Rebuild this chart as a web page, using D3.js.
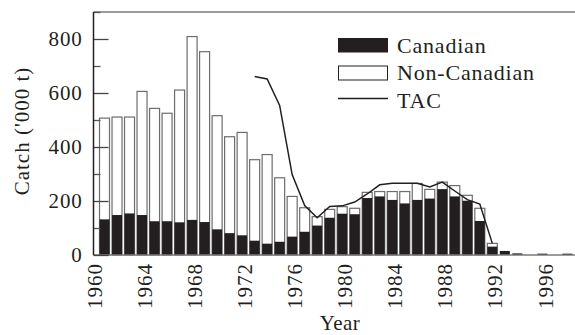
<!DOCTYPE html>
<html>
<head>
<meta charset="utf-8">
<script src="https://cdn.jsdelivr.net/npm/d3@7"></script>
<style>
  body { margin: 0; background: #fff; }
  text { font-family: "Liberation Serif", serif; fill: #231f20; }
</style>
</head>
<body>
<div id="chart"></div>
<script>
// catch by year, '000 t
var years = d3.range(1961, 1999);
var canadian = [132, 148, 154, 148, 125, 125, 121, 130, 122, 95,
                81, 73, 53, 42, 49, 68, 86, 109, 138, 153,
                151, 211, 217, 204, 191, 204, 209, 244, 217, 201,
                126, 31, 15, 6, 0, 5, 0, 5];
var nonCanadian = [375, 363, 357, 458, 418, 400, 490, 679, 631, 421,
                   357, 381, 300, 330, 237, 149, 89, 33, 31, 26,
                   22, 21, 18, 31, 44, 61, 34, 26, 40, 20,
                   47, 12, 0, 0, 0, 0, 0, 0];
var tacYears = d3.range(1973, 1993);
var tac = [661, 652, 554, 298, 183, 138, 180, 182, 196, 226,
           260, 266, 266, 266, 252, 270, 237, 205, 189, 43];
var yearTicks = d3.range(1960, 1997, 4);
var catchTicks = [0, 200, 400, 600, 800];
var minorTicks = [100, 300, 500, 700, 900];
var legendItems = ["Canadian", "Non-Canadian", "TAC"];

var data = years.map(function(y, i) {
  return { year: y, can: canadian[i], non: nonCanadian[i] };
});

var margin = { top: 12, right: 0, bottom: 80, left: 93.5 },
    width = 575 - margin.left - margin.right,
    height = 335 - margin.top - margin.bottom;

var svg = d3.select("#chart").append("svg")
    .attr("width", 575)
    .attr("height", 335)
  .append("g")
    .attr("transform", "translate(" + margin.left + "," + margin.top + ")");

var x = d3.scaleLinear()
    .domain([1960, 1998.5])
    .range([-1.5, -1.5 + 38.5 * 12.51]);

var y = d3.scaleLinear()
    .domain([0, 900])
    .range([height, 0]);

var barW = 10;

// bars: outlined total, black Canadian part on the bottom
svg.selectAll(".total")
    .data(data.filter(function(d) { return d.non > 0; }))
  .enter().append("rect")
    .attr("class", "total")
    .attr("x", function(d) { return x(d.year) - barW / 2; })
    .attr("y", function(d) { return y(d.can + d.non); })
    .attr("width", barW)
    .attr("height", function(d) { return y(0) - y(d.can + d.non); })
    .style("fill", "#fff")
    .style("stroke", "#6d6d6d")
    .style("stroke-width", 1.2);

svg.selectAll(".can")
    .data(data.filter(function(d) { return d.can > 0; }))
  .enter().append("rect")
    .attr("class", "can")
    .attr("x", function(d) { return x(d.year) - barW / 2; })
    .attr("y", function(d) { return y(d.can); })
    .attr("width", barW)
    .attr("height", function(d) { return y(0) - y(d.can); })
    .style("fill", "#231f20");

// TAC line
var line = d3.line()
    .x(function(d, i) { return x(tacYears[i]); })
    .y(function(d) { return y(d); });

svg.append("path")
    .datum(tac)
    .attr("d", line)
    .style("fill", "none")
    .style("stroke", "#231f20")
    .style("stroke-width", 1.5);

// frame lines
svg.append("line")
    .attr("x1", 0).attr("x2", width)
    .attr("y1", 0).attr("y2", 0)
    .style("stroke", "#7a7a7a").style("stroke-width", 1.5);

svg.append("line")
    .attr("x1", 0).attr("x2", width)
    .attr("y1", height).attr("y2", height)
    .style("stroke", "#7a7a7a").style("stroke-width", 1.5);

// y axis, ticks pointing inwards
var yAxis = svg.append("g")
    .call(d3.axisLeft(y).tickValues(catchTicks).tickSize(-15).tickPadding(11));
yAxis.select(".domain").remove();
yAxis.selectAll("line").style("stroke", "#444").style("stroke-width", 1.3);
yAxis.selectAll("text")
    .style("font-family", "Liberation Serif, serif")
    .style("font-size", "21px")
    .style("letter-spacing", "0.8px")
    .style("fill", "#231f20");

var yMinor = svg.append("g")
    .call(d3.axisLeft(y).tickValues(minorTicks).tickSize(-7).tickFormat(""));
yMinor.select(".domain").remove();
yMinor.selectAll("line").style("stroke", "#555").style("stroke-width", 1.3);

svg.append("line")
    .attr("x1", 0).attr("x2", 0)
    .attr("y1", 0).attr("y2", height)
    .style("stroke", "#231f20").style("stroke-width", 1.5);

// x axis labels, rotated
var xAxis = svg.append("g")
    .attr("transform", "translate(0," + height + ")")
    .call(d3.axisBottom(x).tickValues(yearTicks).tickSize(0).tickFormat(d3.format("d")));
xAxis.select(".domain").remove();
xAxis.selectAll("text")
    .attr("transform", "rotate(-90)")
    .attr("x", -8)
    .attr("y", 0)
    .attr("dy", "0.46em")
    .style("text-anchor", "end")
    .style("font-family", "Liberation Serif, serif")
    .style("font-size", "21px")
    .style("letter-spacing", "1px")
    .style("fill", "#231f20");

// axis titles
svg.append("text")
    .attr("transform", "translate(" + (29 - margin.left) + "," + (131 - margin.top) + ") rotate(-90)")
    .style("text-anchor", "middle")
    .style("font-size", "21px")
    .style("letter-spacing", "1px")
    .text("Catch ('000 t)");

svg.append("text")
    .attr("x", 340 - margin.left)
    .attr("y", 330 - margin.top)
    .style("text-anchor", "middle")
    .style("font-size", "21px")
    .style("letter-spacing", "0.5px")
    .text("Year");

// legend
var legend = svg.append("g")
    .attr("transform", "translate(" + (338 - margin.left) + "," + (38 - margin.top) + ")");

var rowH = 27.5;

legend.append("rect")
    .attr("x", 0).attr("y", 0)
    .attr("width", 50).attr("height", 14.5)
    .style("fill", "#231f20");

legend.append("rect")
    .attr("x", 0.5).attr("y", rowH + 0.5)
    .attr("width", 49).attr("height", 14)
    .style("fill", "#fff")
    .style("stroke", "#231f20")
    .style("stroke-width", 1);

legend.append("line")
    .attr("x1", 0).attr("x2", 50)
    .attr("y1", 2 * rowH + 5.5).attr("y2", 2 * rowH + 5.5)
    .style("stroke", "#231f20")
    .style("stroke-width", 1.5);

legend.selectAll(".legText")
    .data(legendItems)
  .enter().append("text")
    .attr("class", "legText")
    .attr("x", 59)
    .attr("y", function(d, i) { return i * rowH + 14.5; })
    .style("font-size", "22px")
    .style("letter-spacing", "0.8px")
    .text(function(d) { return d; });
</script>
</body>
</html>
